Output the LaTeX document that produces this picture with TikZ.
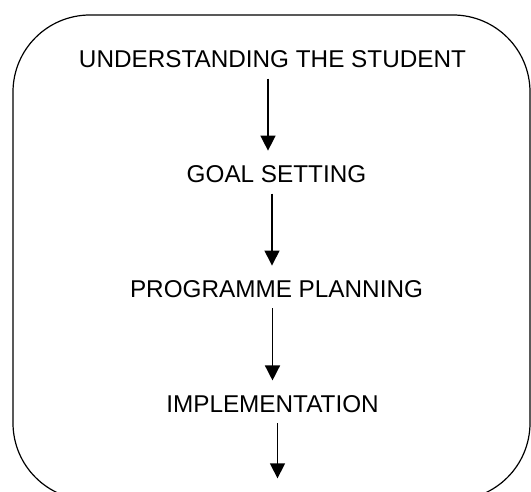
\documentclass[tikz,border=0pt]{standalone}
\usepackage{fontspec}
\setmainfont{Liberation Sans}
\usetikzlibrary{positioning, arrows.meta}
\tikzset{
    stage/.style={inner sep=0pt, text height=17.5pt, text depth=0pt, font=\fontsize{24.3}{28}\selectfont},
    flow/.style={-{Triangle[width=15pt,length=15pt]}, line width=1.4pt, shorten <=11pt, shorten >=14pt},
    frame/.style={draw, line width=1.2pt, rounded corners=77pt},
}

\begin{document}
\begin{tikzpicture}[x=1pt, y=1pt]
    \tikzset{node distance=97pt}
    \useasboundingbox (0,0) rectangle (531,491);
    \clip (0,0) rectangle (531,491);

    \draw[frame] (13,-9) rectangle (530,476);

    \node[stage] (understand) at (272.5,432.3) {UNDERSTANDING THE STUDENT};
    \node[stage, below=of understand, xshift=4pt] (goal) {GOAL SETTING};
    \node[stage, below=of goal] (plan) {PROGRAMME PLANNING};
    \node[stage, below=of plan, xshift=-4pt] (impl) {IMPLEMENTATION};
    \coordinate (exit) at ([xshift=5pt, yshift=-66pt]impl.south);

    \draw[flow] ([xshift=-4.5pt]understand.south) -- ([xshift=-8.5pt]goal.north);
    \draw[flow] ([xshift=-4.5pt]goal.south) -- ([xshift=-4.5pt]plan.north);
    \draw[flow] ([xshift=-4pt]plan.south) -- ([xshift=0pt]impl.north);
    \draw[flow, shorten >=0pt] ([xshift=5pt]impl.south) -- (exit);
\end{tikzpicture}
\end{document}
